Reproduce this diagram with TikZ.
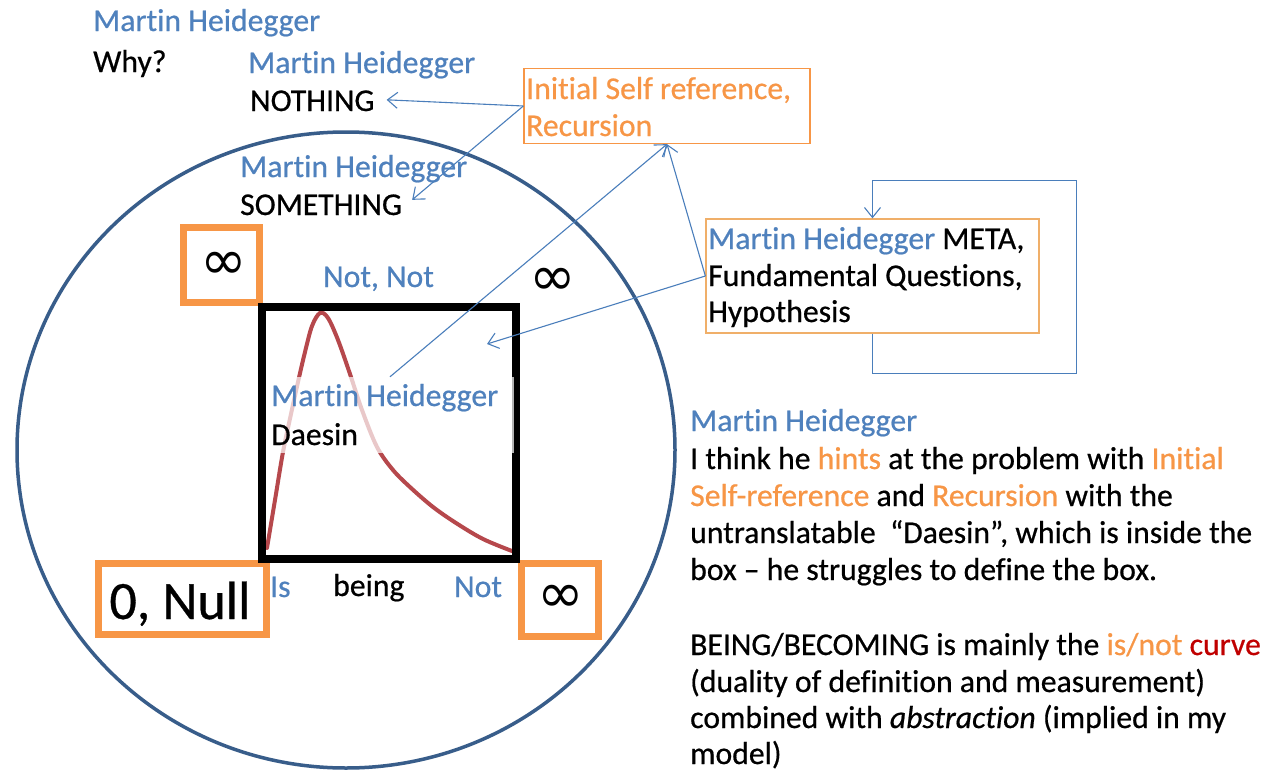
\documentclass[tikz,border=0pt]{standalone}
\usepackage{fontspec}
\setmainfont{Carlito}[FakeBold=0.6,Ligatures=NoCommon]
\newfontfamily\symf{DejaVu Sans}
\usetikzlibrary{arrows.meta}
\definecolor{mhblue}{RGB}{79,129,189}
\definecolor{mhorange}{RGB}{247,150,70}
\definecolor{circblue}{RGB}{56,93,138}
\definecolor{arrblue}{RGB}{74,126,187}
\definecolor{curvered}{RGB}{182,72,76}
\definecolor{darkred}{RGB}{192,0,0}
\definecolor{metaborder}{RGB}{240,175,105}
\newcommand{\oro}[1]{\textcolor{mhorange}{#1}}
\newcommand{\blt}[1]{\textcolor{mhblue}{#1}}
\newcommand{\rdt}[1]{\textcolor{darkred}{#1}}
\tikzset{
 txt/.style={anchor=base west, inner sep=0pt, font=\fontsize{31.7}{37}\selectfont},
 bl/.style={txt, text=mhblue},
 obox/.style={draw=mhorange, line width=7pt, inner sep=0pt},
 inf/.style={inner sep=0pt, font=\symf\fontsize{56}{60}\selectfont},
 arr/.style={draw=arrblue, line width=1.1pt, -{Straight Barb[length=10pt,width=16pt]}},
 thinbox/.style={line width=1.3pt, fill=white, inner sep=0pt},
}
\begin{document}
\begin{tikzpicture}[x=1pt,y=-1pt]
\useasboundingbox[fill=white] (0,0) rectangle (1280,771);
% big circle
\draw[circblue, line width=3.5pt] (346,450) ellipse [x radius=329pt, y radius=318pt];

% top-left texts
\node[bl] (mh1) at (93,31) {Martin Heidegger};
\node[txt] (why) at (93,72) {Why?};
\node[bl] (mh2) at (248,73) {Martin Heidegger};
\node[txt] (nothing) at (250,111) {NOTHING};
\node[bl] (mh3) at (240,177) {Martin Heidegger};
\node[txt] (something) at (240,215) {SOMETHING};

% initial self reference box
\node[thinbox, draw=mhorange, minimum width=286, minimum height=75] (init) at (667,106) {};
\node[txt, text=mhorange] (init1) at (526,99) {Initial Self reference,};
\node[txt, text=mhorange] (init2) at (526,136) {Recursion};

% META box
\node[thinbox, draw=metaborder, minimum width=333, minimum height=114] (meta) at (872.5,276) {};
\node[txt] (meta1) at (708,249) {\blt{Martin Heidegger} META,};
\node[txt] (meta2) at (708,286) {Fundamental Questions,};
\node[txt] (meta3) at (708,322) {Hypothesis};

% orange boxes
\node[obox, minimum width=76, minimum height=75] (b1) at (221.5,265) {};
\node[inf] (i1) at (224,266) {∞};
\node[obox, minimum width=168, minimum height=71] (b2) at (182.5,599) {};
\node[txt, anchor=base, font=\fontsize{54}{60}\selectfont] (null) at (180,619) {0, Null};
\node[obox, minimum width=77, minimum height=73] (b3) at (560,600) {};
\node[inf] (i3) at (561,599) {∞};
\node[inf] (i2) at (553,282) {∞};

% curve
\draw[curvered, line width=4pt, line cap=round] plot[smooth, tension=0.55] coordinates {
 (267,548) (275,500) (283,452) (291,414) (298,382) (305,352) (312,326) (320,313)
 (328,318) (338,340) (350,374) (362,410) (377,447) (393,470) (411,488) (433,507)
 (456,523) (483,539) (512,551)};

% black square
\node[draw=black, line width=8pt, minimum width=254, minimum height=252, inner sep=0pt] (sq) at (389,433) {};

% Daesin text box overlay
\node[fill=white, fill opacity=0.7, minimum width=248, minimum height=76, inner sep=0pt] (dbox) at (390,415) {};
\node[bl] (mhd) at (271,406) {Martin Heidegger};
\node[txt] (daesin) at (271,445) {Daesin};

% labels around square
\node[bl] (notnot) at (323,287) {Not, Not};
\node[bl] (is) at (270,597) {Is};
\node[txt] (being) at (333,596) {being};
\node[bl] (notl) at (454,597) {Not};

% right text block
\node[bl] (r0) at (690,431) {Martin Heidegger};
\node[txt] (r1) at (690,469) {I think he \oro{hints} at the problem with \oro{Initial}};
\node[txt] (r2) at (690,506) {\oro{Self-reference} and \oro{Recursion} with the};
\node[txt] (r3) at (690,543) {untranslatable\ \ “Daesin”, which is inside the};
\node[txt] (r4) at (690,580) {box – he struggles to define the box.};
\node[txt] (r5) at (690,655) {BEING/BECOMING is mainly the \oro{is/not} \rdt{curve}};
\node[txt] (r6) at (690,692) {(duality of definition and measurement)};
\node[txt] (r7) at (690,728) {combined with \textit{abstraction} (implied in my};
\node[txt] (r8) at (690,764) {model)};

% connectors
\coordinate (sqin) at (487,344);
\draw[arr] (init.west) -- ([xshift=12pt,yshift=1pt]nothing.east);
\draw[arr] (init.west) -- ([xshift=10pt,yshift=5pt]something.east);
\draw[arr] (dbox.north) -- (init.south);
\draw[arr] (meta.west) -- (init.south);
\draw[arr] (meta.west) -- (sqin);
\draw[arr] (meta.south) -- ++(0,40) -- ++(204,0) -- ++(0,-193) -| (meta.north);
\end{tikzpicture}
\end{document}
